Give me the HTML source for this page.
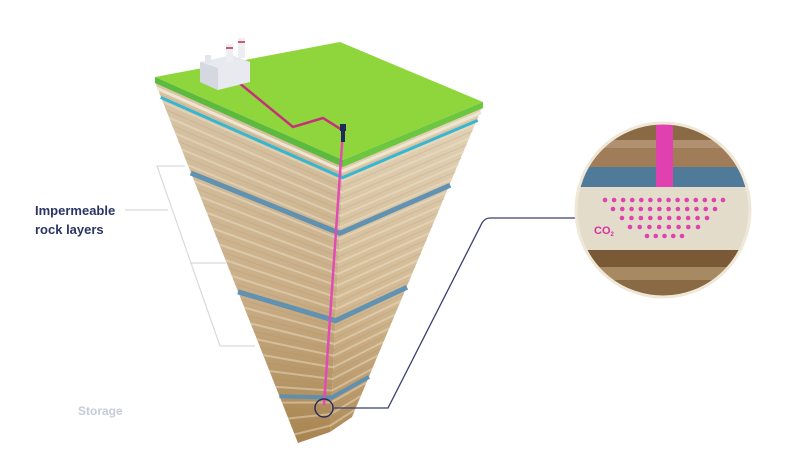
<!DOCTYPE html>
<html><head><meta charset="utf-8"><style>
html,body{margin:0;padding:0;background:#fff;}
body{width:787px;height:462px;overflow:hidden;position:relative;font-family:"Liberation Sans",sans-serif;}
.lbl{position:absolute;font-weight:bold;}
</style></head><body>
<svg id="s" width="787" height="462" viewBox="0 0 787 462" style="position:absolute;left:0;top:0">
<defs>
<linearGradient id="gl" x1="0" y1="0" x2="0" y2="1"><stop offset="0" stop-color="#d8c6a8"/><stop offset="0.6" stop-color="#c9ad86"/><stop offset="1" stop-color="#a8844f"/></linearGradient>
<linearGradient id="gr" x1="0" y1="0" x2="0" y2="1"><stop offset="0" stop-color="#e2d3b8"/><stop offset="0.6" stop-color="#d2b993"/><stop offset="1" stop-color="#b08c5a"/></linearGradient>
<clipPath id="cc"><circle cx="663" cy="210" r="86"/></clipPath>
</defs>
<g id="body">
<polygon points="155,82 343,167 330,432 298,443" fill="url(#gl)"/>
<polygon points="343,167 483,105 352,417 330,432" fill="url(#gr)"/>
</g>
<g id="strata"></g>
<polygon points="155,77 340,42 483,102 343,160" fill="#8fd63c"/>
<polygon points="155,77 343,160 343,167 155,83" fill="#5cba3e"/>
<polygon points="343,160 483,102 483,108 343,167" fill="#6cc640"/>
<polyline points="238,82 293,127 323,118 342,130" fill="none" stroke="#c8307a" stroke-width="2.5"/>
<polygon points="200,62 232,55 250,62 250,82 218,90 200,82" fill="#e8eaf0"/>
<polygon points="200,62 218,68 218,90 200,82" fill="#d5d8e0"/>
<rect x="226" y="44" width="7" height="18" fill="#eceef2"/><rect x="226" y="47" width="7" height="2" fill="#d05a70"/>
<rect x="238" y="38" width="7" height="20" fill="#eceef2"/><rect x="238" y="41" width="7" height="2" fill="#d05a70"/>
<rect x="205" y="55" width="6" height="8" fill="#e4e6ec"/>
<line x1="343" y1="130" x2="324" y2="405" stroke="#e24bb6" stroke-width="2.5"/>
<path d="M340,124 h6 v7 h-1 v11 h-4 v-11 h-1z" fill="#1f2a5c"/>
<g fill="none" stroke="#d6dae0" stroke-width="1.2">
<path d="M185,166 H157 L220,346 H255"/>
<line x1="125" y1="210" x2="168" y2="210"/>
<line x1="190" y1="263" x2="226" y2="263"/>
</g>
<circle cx="324" cy="408" r="9" fill="none" stroke="#2a2f5a" stroke-width="1.5"/>
<path d="M333,408 H388 L482,223 Q485,218 490,218 H578" fill="none" stroke="#3a3f70" stroke-width="1.3"/>
<g clip-path="url(#cc)">
<rect x="570" y="120" width="190" height="30" fill="#8a6a45"/>
<rect x="570" y="140" width="190" height="8" fill="#b09070"/>
<rect x="570" y="148" width="190" height="19" fill="#a07d58"/>
<rect x="570" y="167" width="190" height="20" fill="#4f7a9a"/>
<rect x="570" y="187" width="190" height="63" fill="#e3dccb"/>
<rect x="570" y="250" width="190" height="17" fill="#7a5a36"/>
<rect x="570" y="267" width="190" height="13" fill="#a88a62"/>
<rect x="570" y="280" width="190" height="25" fill="#8a6a45"/>
<rect x="656" y="120" width="17" height="67" fill="#e040b0"/>
<g id="dots" fill="#e040b0"></g>
<text x="594" y="234" font-family="Liberation Sans,sans-serif" font-weight="bold" font-size="11" fill="#d6309e">CO<tspan font-size="6" dy="2">2</tspan></text>
</g>
<circle cx="663" cy="210" r="87" fill="none" stroke="#efe8d8" stroke-width="3"/>
</svg>
<div class="lbl" style="left:35px;top:201px;font-size:13px;line-height:19px;color:#2a3566">Impermeable<br>rock layers</div>
<div class="lbl" style="left:78px;top:404px;font-size:12px;color:#c8cbd9">Storage</div>
<script>
var NS="http://www.w3.org/2000/svg";
function lerp(a,b,t){return [a[0]+(b[0]-a[0])*t,a[1]+(b[1]-a[1])*t];}
var L0=[155,83],L1=[298,443],F0=[343,167],F1=[330,432],R0=[483,108],R1=[352,417];
var g=document.getElementById("strata");
function band(t,w,c,o){var l=lerp(L0,L1,t),f=lerp(F0,F1,t),r=lerp(R0,R1,t);
var p=document.createElementNS(NS,"polyline");p.setAttribute("points",l+" "+f+" "+r);
p.setAttribute("fill","none");p.setAttribute("stroke",c);p.setAttribute("stroke-width",w);p.setAttribute("opacity",o);g.appendChild(p);}
for(var i=0;i<45;i++){var t=0.03+i*0.022;band(t,1+(i%2),(i%2)?"#f0e4cc":"#a8895f",(i%2)?0.45:0.2);}
band(0.015,3,"#efe6d0",1);
band(0.04,3,"#35b6d2",1);
band(0.25,5,"#5b8fb3",0.95);
band(0.58,5,"#5b8fb3",0.95);
band(0.87,4,"#5b8fb3",0.95);
var d=document.getElementById("dots");
var rows=[[200,605,723,14],[209,613,715,12],[218,622,707,10],[227,630,698,8],[236,647,682,5]];
rows.forEach(function(r){for(var k=0;k<r[3];k++){var c=document.createElementNS(NS,"circle");
c.setAttribute("cx",r[1]+(r[2]-r[1])*k/(r[3]-1));c.setAttribute("cy",r[0]);c.setAttribute("r",2.3);d.appendChild(c);}});
</script>
</body></html>
